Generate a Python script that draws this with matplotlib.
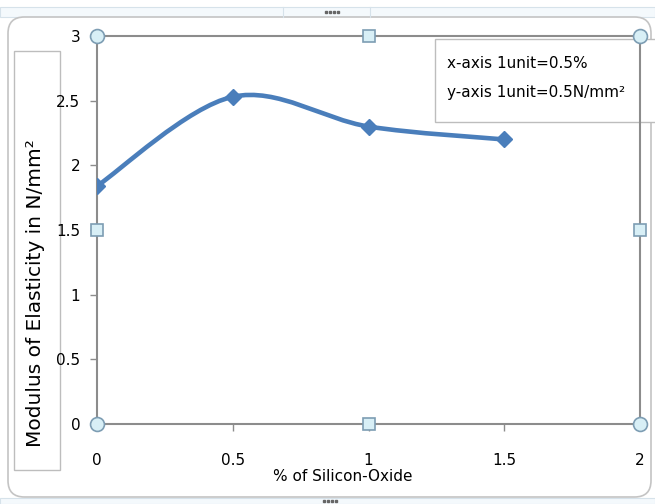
import numpy as np
import matplotlib.pyplot as plt
from matplotlib.path import Path
from matplotlib.patches import PathPatch, FancyBboxPatch, Rectangle

# % of silicon oxide vs modulus of elasticity
silica_pct = [0, 0.5, 1, 1.5]
modulus = [1.84, 2.53, 2.30, 2.20]

x_ticks = [0, 0.5, 1, 1.5, 2]
y_ticks = [0, 0.5, 1, 1.5, 2, 2.5, 3]

line_blue = "#4a7ebb"
narrow = ["Liberation Sans Narrow", "DejaVu Sans"]

W, H = 655, 504
fig = plt.figure(figsize=(W / 100, H / 100), dpi=100)
fig.patch.set_facecolor("white")


def px_box(x0, y0, x1, y1):
    # pixel box (top-left origin) -> figure fraction rect
    return (x0 / W, 1 - y1 / H, (x1 - x0) / W, (y1 - y0) / H)


# window strips above and below the chart area
fig.patches.append(Rectangle((0, 1 - 17 / H), 1, 10 / H, transform=fig.transFigure,
                             facecolor="#f4f9fc", edgecolor="#d6e2ea", lw=0.8, zorder=0))
fig.patches.append(Rectangle((0, 0), 1, 6 / H, transform=fig.transFigure,
                             facecolor="#f4f9fc", edgecolor="#d6e2ea", lw=0.8, zorder=0))
for xd in [283, 370]:
    fig.add_artist(plt.Line2D([xd / W, xd / W], [1 - 17 / H, 1 - 7 / H],
                              transform=fig.transFigure, color="#d6e2ea", lw=0.8))
# grip dots
for cx, cy in [(332, 12), (330, 501)]:
    gx = [(cx + d) / W for d in (-6, -2, 2, 6)]
    fig.add_artist(plt.Line2D(gx, [1 - cy / H] * 4, transform=fig.transFigure,
                              linestyle="none", marker="s", markersize=1.6,
                              color="#666666"))

# chart area frame
fx, fy, fw, fh = px_box(8, 17, 651, 497)
fig.patches.append(FancyBboxPatch((fx, fy), fw, fh, boxstyle="round,pad=0,rounding_size=0.025",
                                  transform=fig.transFigure, facecolor="white",
                                  edgecolor="#c4c4c4", lw=1.2, mutation_aspect=W / H,
                                  zorder=0))

# note box with axis units (sits under the plot area border)
nx, ny, nw, nh = px_box(435, 39, 658, 122)
fig.patches.append(Rectangle((nx, ny), nw, nh, transform=fig.transFigure,
                             facecolor="white", edgecolor="#bdbdbd", lw=1, zorder=1))
fig.text(447 / W, 1 - 63 / H, "x-axis 1unit=0.5%", ha="left", va="center",
         fontsize=11, family=narrow, zorder=4)
fig.text(447 / W, 1 - 92 / H, "y-axis 1unit=0.5N/mm²", ha="left", va="center",
         fontsize=11, family=narrow, zorder=4)

ax = fig.add_axes(px_box(97, 36, 640, 424))
ax.set_zorder(2)
ax.set_xlim(0, 2)
ax.set_ylim(0, 3)
ax.set_facecolor("none")
for s in ax.spines.values():
    s.set_color("#8c8c8c")
    s.set_linewidth(1.5)

ax.set_xticks(x_ticks)
ax.set_xticklabels([f"{v:g}" for v in x_ticks], family=narrow, fontsize=11)
ax.set_yticks(y_ticks)
ax.set_yticklabels([f"{v:g}" for v in y_ticks], family=narrow, fontsize=11)
ax.tick_params(axis="x", length=5, width=1, color="#8c8c8c", pad=16)
ax.tick_params(axis="y", length=5, width=1, color="#8c8c8c", pad=7)
ax.set_xlabel("% of Silicon-Oxide", family=narrow, fontsize=11, labelpad=0)
ax.xaxis.set_label_coords((343 - 97) / (640 - 97), -(469 - 424) / (424 - 36))

# smoothed line (Bezier segments through the points)
pts = np.column_stack([silica_pct, modulus])
verts = [pts[0]]
codes = [Path.MOVETO]
n = len(pts)
for i in range(n - 1):
    p_prev = pts[max(i - 1, 0)]
    p0, p1 = pts[i], pts[i + 1]
    p_next = pts[min(i + 2, n - 1)]
    c1 = p0 + (p1 - p_prev) / 6
    c2 = p1 - (p_next - p0) / 6
    verts += [c1, c2, p1]
    codes += [Path.CURVE4] * 3
ax.add_patch(PathPatch(Path(verts, codes), facecolor="none", edgecolor=line_blue,
                       lw=3.3, capstyle="round", joinstyle="round", zorder=3))
ax.plot(silica_pct, modulus, linestyle="none", marker="D", markersize=8.5,
        color=line_blue, zorder=4)

# selection handles on the plot area border
handle_fc = "#d8eff6"
handle_ec = "#7d9db3"
for hx, hy in [(0, 0), (0, 3), (2, 0), (2, 3)]:
    ax.plot(hx, hy, marker="o", markersize=10, markerfacecolor=handle_fc,
            markeredgecolor=handle_ec, markeredgewidth=1.2, clip_on=False, zorder=6)
for hx, hy in [(1, 0), (1, 3), (0, 1.5), (2, 1.5)]:
    ax.plot(hx, hy, marker="s", markersize=8, markerfacecolor=handle_fc,
            markeredgecolor=handle_ec, markeredgewidth=1.2, clip_on=False, zorder=6)

# y axis title in its own box
bx, by, bw, bh = px_box(14, 51, 60, 470)
fig.patches.append(Rectangle((bx, by), bw, bh, transform=fig.transFigure,
                             facecolor="white", edgecolor="#bdbdbd", lw=1, zorder=1))
fig.text(36 / W, 1 - 293 / H, "Modulus of Elasticity in N/mm²", rotation=90,
         ha="center", va="center", fontsize=14.5, family="DejaVu Sans")

fig.savefig("out.png", dpi=100)
